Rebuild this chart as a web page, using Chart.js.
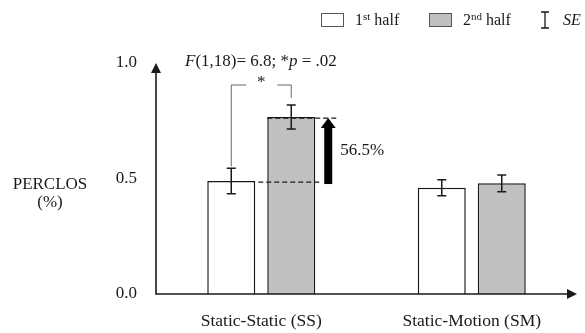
<!DOCTYPE html>
<html>
<head>
<meta charset="utf-8">
<script src="https://cdn.jsdelivr.net/npm/chart.js@4.4.1/dist/chart.umd.min.js"></script>
<style>
  html, body { margin: 0; padding: 0; background: #fff; }
  #wrap { width: 585px; height: 333px; }
</style>
</head>
<body>
<div id="wrap"><canvas id="perclos"></canvas></div>
<script>
const categories = ['Static-Static (SS)', 'Static-Motion (SM)'];
const firstHalf = [0.489, 0.460];
const secondHalf = [0.766, 0.479];
const firstHalfSE = [0.055, 0.035];
const secondHalfSE = [0.052, 0.036];
const yTicks = [0.0, 0.5, 1.0];

const serif = '"Liberation Serif", "Times New Roman", serif';
const ink = '#1a1a1a';

// error bars, axes with arrows, significance marks, legend
const extras = {
  id: 'extras',
  afterDatasetsDraw(chart) {
    const ctx = chart.ctx;
    const y = chart.scales.y;
    const area = chart.chartArea;
    const ses = [firstHalfSE, secondHalfSE];

    ctx.save();
    ctx.strokeStyle = ink;
    ctx.fillStyle = ink;

    // error bars
    ctx.lineWidth = 1.5;
    chart.data.datasets.forEach((ds, di) => {
      chart.getDatasetMeta(di).data.forEach((bar, i) => {
        const v = ds.data[i], se = ses[di][i];
        const top = y.getPixelForValue(v + se), bot = y.getPixelForValue(v - se);
        ctx.beginPath();
        ctx.moveTo(bar.x, top); ctx.lineTo(bar.x, bot);
        ctx.moveTo(bar.x - 4.5, top); ctx.lineTo(bar.x + 4.5, top);
        ctx.moveTo(bar.x - 4.5, bot); ctx.lineTo(bar.x + 4.5, bot);
        ctx.stroke();
      });
    });

    // axes
    ctx.lineWidth = 1.6;
    ctx.beginPath();
    ctx.moveTo(area.left, area.top + 8);
    ctx.lineTo(area.left, area.bottom);
    ctx.lineTo(area.right - 8, area.bottom);
    ctx.stroke();
    ctx.beginPath();
    ctx.moveTo(area.left, area.top);
    ctx.lineTo(area.left - 5, area.top + 10);
    ctx.lineTo(area.left + 5, area.top + 10);
    ctx.closePath(); ctx.fill();
    ctx.beginPath();
    ctx.moveTo(area.right, area.bottom);
    ctx.lineTo(area.right - 10, area.bottom - 5);
    ctx.lineTo(area.right - 10, area.bottom + 5);
    ctx.closePath(); ctx.fill();

    // significance bracket for SS
    const b1 = chart.getDatasetMeta(0).data[0];
    const b2 = chart.getDatasetMeta(1).data[0];
    const t1 = y.getPixelForValue(firstHalf[0] + firstHalfSE[0]);
    const t2 = y.getPixelForValue(secondHalf[0] + secondHalfSE[0]);
    const by = 85;
    const mid = (b1.x + b2.x) / 2;
    ctx.lineWidth = 0.8;
    ctx.strokeStyle = '#444';
    ctx.beginPath();
    ctx.moveTo(b1.x, t1 - 2); ctx.lineTo(b1.x, by); ctx.lineTo(mid - 15, by);
    ctx.moveTo(mid + 16, by); ctx.lineTo(b2.x, by); ctx.lineTo(b2.x, t2 - 7);
    ctx.stroke();
    ctx.font = '17px ' + serif;
    ctx.textAlign = 'center';
    ctx.textBaseline = 'middle';
    ctx.fillText('*', mid, 83);

    // F statistic
    ctx.textAlign = 'left';
    let tx = 185;
    const parts = [['F', true], ['(1,18)= 6.8; *', false], ['p', true], [' = .02', false]];
    parts.forEach(([s, it]) => {
      ctx.font = (it ? 'italic ' : '') + '17px ' + serif;
      ctx.fillText(s, tx, 62);
      tx += ctx.measureText(s).width;
    });

    // dashed reference lines and increase arrow
    const yLow = y.getPixelForValue(firstHalf[0]);
    const yHigh = y.getPixelForValue(secondHalf[0]);
    const ax = b2.x + b2.width / 2 + 13;
    ctx.strokeStyle = ink;
    ctx.lineWidth = 1.3;
    ctx.setLineDash([5, 3]);
    ctx.beginPath();
    ctx.moveTo(b1.x + b1.width / 2 + 3, yLow + 1); ctx.lineTo(ax - 6, yLow + 1);
    ctx.moveTo(b2.x - b2.width / 2, yHigh + 1); ctx.lineTo(ax + 10, yHigh + 1);
    ctx.stroke();
    ctx.setLineDash([]);
    ctx.fillStyle = '#000';
    ctx.fillRect(ax - 4, yHigh + 10, 8, yLow - yHigh - 7);
    ctx.beginPath();
    ctx.moveTo(ax, yHigh + 1);
    ctx.lineTo(ax - 7.5, yHigh + 11);
    ctx.lineTo(ax + 7.5, yHigh + 11);
    ctx.closePath(); ctx.fill();
    ctx.fillStyle = ink;
    ctx.font = '17px ' + serif;
    ctx.fillText('56.5%', ax + 12, (yLow + yHigh) / 2 + 1);

    // y title
    ctx.textAlign = 'center';
    ctx.fillText('PERCLOS', 50, 185);
    ctx.fillText('(%)', 50, 203);

    // legend
    const ly = 20;
    const items = [['1', 'st', ' half', '#ffffff', 321], ['2', 'nd', ' half', '#c0c0c0', 429]];
    ctx.textAlign = 'left';
    items.forEach(([n, sup, rest, fill, x]) => {
      ctx.fillStyle = fill;
      ctx.fillRect(x, ly - 7, 23, 14);
      ctx.strokeStyle = '#555';
      ctx.lineWidth = 1;
      ctx.strokeRect(x + 0.5, ly - 6.5, 22, 13);
      ctx.fillStyle = ink;
      let lx = x + 34;
      ctx.font = '16px ' + serif;
      ctx.fillText(n, lx, ly + 1); lx += ctx.measureText(n).width;
      ctx.font = '11px ' + serif;
      ctx.fillText(sup, lx, ly - 3); lx += ctx.measureText(sup).width;
      ctx.font = '16px ' + serif;
      ctx.fillText(rest, lx, ly + 1);
    });
    ctx.strokeStyle = ink;
    ctx.lineWidth = 1.3;
    ctx.beginPath();
    ctx.moveTo(545, ly - 8); ctx.lineTo(545, ly + 8);
    ctx.moveTo(541, ly - 8); ctx.lineTo(549, ly - 8);
    ctx.moveTo(541, ly + 8); ctx.lineTo(549, ly + 8);
    ctx.stroke();
    ctx.font = 'italic 16px ' + serif;
    ctx.fillText('SE', 563, ly + 1);
    ctx.restore();
  }
};

new Chart(document.getElementById('perclos'), {
  type: 'bar',
  data: {
    labels: categories,
    datasets: [{
      label: '1st half',
      data: firstHalf,
      backgroundColor: '#ffffff',
      borderColor: ink,
      borderWidth: 1.5,
      barPercentage: 0.8,
      categoryPercentage: 0.57
    }, {
      label: '2nd half',
      data: secondHalf,
      backgroundColor: '#c0c0c0',
      borderColor: ink,
      borderWidth: 1.5,
      barPercentage: 0.8,
      categoryPercentage: 0.57
    }]
  },
  options: {
    responsive: true,
    maintainAspectRatio: false,
    animation: false,
    layout: { padding: { top: 63, right: 8, left: 0, bottom: 0 } },
    scales: {
      x: {
        offset: true,
        grid: { display: false },
        border: { display: false },
        ticks: { color: ink, font: { family: serif, size: 17.5 }, padding: 9 },
        afterFit: s => { s.height = 39; }
      },
      y: {
        min: 0,
        max: 1,
        grid: { display: false },
        border: { display: false },
        afterBuildTicks: s => { s.ticks = yTicks.map(v => ({ value: v })); },
        ticks: {
          color: ink,
          font: { family: serif, size: 17 },
          padding: 11,
          callback: v => v.toFixed(1)
        },
        afterFit: s => { s.width = 156; }
      }
    },
    plugins: {
      legend: { display: false },
      tooltip: { enabled: false }
    }
  },
  plugins: [extras]
});
</script>
</body>
</html>
